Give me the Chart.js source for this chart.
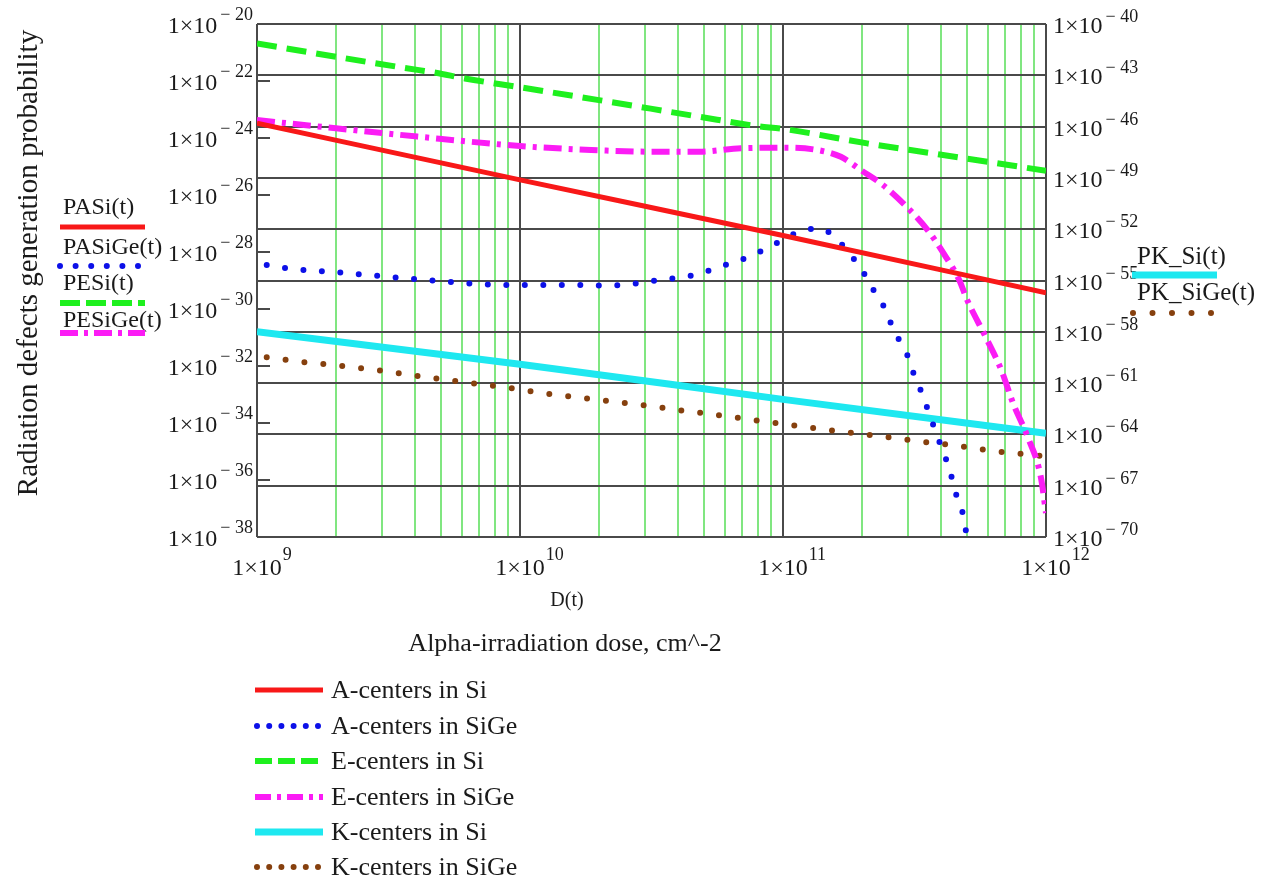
<!DOCTYPE html>
<html><head><meta charset="utf-8">
<script src="https://cdn.jsdelivr.net/npm/chart.js@4.4.0/dist/chart.umd.min.js"></script>
<style>html,body{margin:0;padding:0;background:#fff;}canvas{display:block;}</style>
</head><body>
<canvas id="c" width="1269" height="881"></canvas>
<script>
// ---------- data (exponents of ten) ----------
const xTickExps = [9, 10, 11, 12];
const leftTickExps = [-20, -22, -24, -26, -28, -30, -32, -34, -36, -38];
const rightTickExps = [-40, -43, -46, -49, -52, -55, -58, -61, -64, -67, -70];

const seriesNames = ['PASi(t)', 'PASiGe(t)', 'PESi(t)', 'PESiGe(t)', 'PK_Si(t)', 'PK_SiGe(t)'];
const legendLabels = ['A-centers in Si', 'A-centers in SiGe', 'E-centers in Si', 'E-centers in SiGe', 'K-centers in Si', 'K-centers in SiGe'];
const xTitle = 'Alpha-irradiation dose, cm^-2';
const xVarName = 'D(t)';
const yTitle = 'Radiation defects generation probability';

// A-centers in Si (left axis)
const pasiLogD = [9, 10, 11, 12];
const pasiLogP = [-23.48, -25.47, -27.42, -29.43];

// A-centers in SiGe (left axis)
const pasigeLogD = [9.037, 9.113, 9.33, 9.61, 9.97, 10.25, 10.32, 10.46, 10.53, 10.61, 10.68, 10.75, 10.82, 10.885, 10.95, 11.01, 11.07, 11.14, 11.19, 11.235, 11.27, 11.305, 11.33, 11.37, 11.39, 11.415, 11.44, 11.47, 11.49, 11.515, 11.53, 11.55, 11.57, 11.59, 11.61, 11.63, 11.645, 11.66, 11.68, 11.69, 11.70];
const pasigeLogP = [-28.46, -28.57, -28.73, -28.96, -29.16, -29.16, -29.18, -29.08, -28.98, -28.89, -28.77, -28.54, -28.34, -28.11, -27.81, -27.52, -27.26, -27.18, -27.42, -27.85, -28.25, -28.69, -29.18, -29.61, -30.09, -30.59, -31.06, -31.55, -32.12, -32.61, -33.05, -33.51, -34.04, -34.54, -35.04, -35.53, -36.04, -36.56, -37.03, -37.55, -37.96];

// E-centers in Si (left axis)
const pesiLogD = [9, 9.30, 9.61, 9.68, 9.79, 10.0, 10.30, 10.68, 10.9, 11.0, 11.32, 11.57, 12.0];
const pesiLogP = [-20.68, -21.15, -21.61, -21.71, -21.91, -22.22, -22.67, -23.25, -23.58, -23.68, -24.19, -24.54, -25.15];

// E-centers in SiGe (left axis)
const pesigeLogD = [9.0, 9.30, 9.61, 10.0, 10.27, 10.5, 10.68, 10.84, 11.0, 11.13, 11.22, 11.30, 11.38, 11.47, 11.55, 11.61, 11.67, 11.70, 11.77, 11.83, 11.875, 11.93, 11.98, 12.0];
const pesigeLogP = [-23.37, -23.66, -23.95, -24.28, -24.42, -24.48, -24.48, -24.36, -24.34, -24.42, -24.66, -25.15, -25.65, -26.41, -27.23, -28.04, -28.98, -29.68, -30.97, -32.14, -33.31, -34.48, -35.88, -37.16];

// K-centers in Si (right axis)
const pksiLogD = [9, 10, 11, 12];
const pksiLogP = [-58.0, -59.9, -61.95, -63.94];

// K-centers in SiGe (right axis)
const pksigeLogD = [9.037, 9.18, 9.326, 9.468, 9.607, 9.753, 9.965, 10.11, 10.25, 10.46, 10.60, 10.75, 10.89, 11.03, 11.15, 11.28, 11.41, 11.53, 11.67, 11.79, 11.92, 12.0];
const pksigeLogP = [-59.49, -59.78, -60.0, -60.27, -60.58, -60.88, -61.30, -61.64, -61.89, -62.28, -62.57, -62.87, -63.16, -63.45, -63.70, -63.94, -64.19, -64.43, -64.68, -64.95, -65.16, -65.30];

// ---------- build ----------
const pts = (ld, lp) => ld.map((d, i) => ({ x: Math.pow(10, d), y: Math.pow(10, lp[i]) }));
const pw = e => Math.pow(10, e);

const datasets = [
  { label: seriesNames[0], data: pts(pasiLogD, pasiLogP), yAxisID: 'y', borderColor: '#f81818', borderWidth: 5, borderDash: [], borderCapStyle: 'butt' },
  { label: seriesNames[1], data: pts(pasigeLogD, pasigeLogP), yAxisID: 'y', borderColor: '#0c10e8', borderWidth: 6, borderDash: [0, 18.5], borderCapStyle: 'round' },
  { label: seriesNames[2], data: pts(pesiLogD, pesiLogP), yAxisID: 'y', borderColor: '#1ef01e', borderWidth: 6, borderDash: [20, 10], borderCapStyle: 'butt' },
  { label: seriesNames[3], data: pts(pesigeLogD, pesigeLogP), yAxisID: 'y', borderColor: '#fb1cf5', borderWidth: 6, borderDash: [18, 7, 4, 7], borderCapStyle: 'butt' },
  { label: seriesNames[4], data: pts(pksiLogD, pksiLogP), yAxisID: 'y2', borderColor: '#1ee8f0', borderWidth: 7, borderDash: [], borderCapStyle: 'butt' },
  { label: seriesNames[5], data: pts(pksigeLogD, pksigeLogP), yAxisID: 'y2', borderColor: '#86400e', borderWidth: 6, borderDash: [0, 19], borderCapStyle: 'round' }
];
datasets.forEach(d => { d.pointRadius = 0; d.fill = false; d.cubicInterpolationMode = 'monotone'; });

const isDecade = v => Math.abs(Math.log10(v) - Math.round(Math.log10(v))) < 1e-9;
const GRID_DARK = '#4a4a4a';
const GRID_GREEN = '#80e680';
const TEXT = '#1a1a1a';
const SERIF = '"Liberation Serif", "DejaVu Serif", serif';

function drawSci(ctx, e, align, x, baseY, supY) {
  const base = '1\u00d710';
  const sup = e < 0 ? '\u2212 ' + (-e) : String(e);
  ctx.font = '24px ' + SERIF; const wb = ctx.measureText(base).width;
  ctx.font = '18px ' + SERIF; const ws = ctx.measureText(sup).width;
  const gap = align === 'center' ? 1 : 3;
  let x0;
  if (align === 'right') x0 = x - ws - gap - wb;
  else if (align === 'left') x0 = x;
  else x0 = x - wb / 2;
  ctx.textAlign = 'left'; ctx.textBaseline = 'alphabetic';
  ctx.font = '24px ' + SERIF; ctx.fillText(base, x0, baseY);
  ctx.font = '18px ' + SERIF; ctx.fillText(sup, x0 + wb + gap, supY);
}

function sample(ctx, ds, x0, x1, y, dash) {
  ctx.save();
  ctx.strokeStyle = ds.borderColor; ctx.lineWidth = ds.borderWidth;
  ctx.setLineDash(dash || ds.borderDash || []); ctx.lineCap = ds.borderCapStyle || 'butt';
  ctx.beginPath(); ctx.moveTo(x0, y); ctx.lineTo(x1, y); ctx.stroke();
  ctx.restore();
}

const textPlugin = {
  id: 'mathcadText',
  afterDraw(chart) {
    const ctx = chart.ctx, a = chart.chartArea;
    const sx = chart.scales.x, yl = chart.scales.y, yr = chart.scales.y2;
    const ds = chart.data.datasets;
    ctx.save();
    // inward tick marks of left axis
    ctx.strokeStyle = GRID_DARK; ctx.lineWidth = 2;
    leftTickExps.forEach(e => {
      const y = Math.round(yl.getPixelForValue(pw(e)));
      ctx.beginPath(); ctx.moveTo(a.left, y); ctx.lineTo(a.left + 13, y); ctx.stroke();
    });
    ctx.fillStyle = TEXT;
    leftTickExps.forEach(e => { const y = yl.getPixelForValue(pw(e)); drawSci(ctx, e, 'right', a.left - 4, y + 9, y - 4); });
    rightTickExps.forEach(e => { const y = yr.getPixelForValue(pw(e)); drawSci(ctx, e, 'left', a.right + 7, y + 9, y - 2); });
    xTickExps.forEach(e => { const x = sx.getPixelForValue(pw(e)); drawSci(ctx, e, 'center', x, a.bottom + 38, a.bottom + 23); });

    // variable name under x axis
    ctx.textAlign = 'center'; ctx.textBaseline = 'alphabetic';
    ctx.font = '20px ' + SERIF; ctx.fillText(xVarName, 567, 606);
    // x title
    ctx.font = '26px ' + SERIF; ctx.fillText(xTitle, 565, 651);
    // y title
    ctx.save(); ctx.translate(37, 263); ctx.rotate(-Math.PI / 2);
    ctx.font = '29px ' + SERIF; ctx.textAlign = 'center'; ctx.fillText(yTitle, 0, 0);
    ctx.restore();

    // left series legends (Mathcad trace labels)
    ctx.textAlign = 'left'; ctx.font = '24px ' + SERIF;
    const leftRows = [[0, 214, 227, null], [1, 254, 266, [0, 15.6]], [2, 290, 303, [20, 6]], [3, 327, 333, [18, 6, 4, 6]]];
    leftRows.forEach(r => {
      ctx.fillStyle = TEXT; ctx.fillText(seriesNames[r[0]], 63, r[1]);
      sample(ctx, ds[r[0]], 60, r[0] === 1 ? 139 : 145, r[2], r[3]);
    });
    // right series legends
    ctx.font = '25px ' + SERIF;
    ctx.fillStyle = TEXT; ctx.fillText(seriesNames[4], 1137, 264);
    sample(ctx, ds[4], 1132, 1217, 275, null);
    ctx.fillStyle = TEXT; ctx.fillText(seriesNames[5], 1137, 300);
    sample(ctx, ds[5], 1133, 1212, 313, [0, 19.5]);

    // bottom legend
    const rowY = [690, 726, 761, 797, 832, 867];
    const dashes = [null, [0, 12.2], [17, 6], [16, 6, 4, 6], null, [0, 12.2]];
    ctx.font = '26px ' + SERIF;
    legendLabels.forEach((t, i) => {
      const dotted = dashes[i] && dashes[i][0] === 0;
      sample(ctx, ds[i], dotted ? 257 : 255, dotted ? 318 : 323, rowY[i], dashes[i]);
      ctx.fillStyle = TEXT; ctx.fillText(t, 331, rowY[i] + 8);
    });
    ctx.restore();
  }
};

const zeroW = s => { s.width = 0; };
const zeroH = s => { s.height = 0; };

new Chart(document.getElementById('c'), {
  type: 'line',
  data: { datasets },
  options: {
    responsive: false, animation: false, devicePixelRatio: 1,
    layout: { padding: { left: 257, top: 24, right: 223, bottom: 344 } },
    plugins: { legend: { display: false }, tooltip: { enabled: false }, title: { display: false } },
    scales: {
      x: {
        type: 'logarithmic', min: pw(xTickExps[0]), max: pw(xTickExps[xTickExps.length - 1]),
        afterBuildTicks: s => {
          const t = [];
          for (let i = 0; i < xTickExps.length - 1; i++) for (let m = 1; m <= 9; m++) t.push({ value: m * pw(xTickExps[i]) });
          t.push({ value: pw(xTickExps[xTickExps.length - 1]) });
          s.ticks = t;
        },
        afterFit: zeroH,
        ticks: { display: false },
        border: { display: false },
        grid: { drawTicks: false, color: c => isDecade(c.tick.value) ? GRID_DARK : GRID_GREEN, lineWidth: 2 }
      },
      y: {
        type: 'logarithmic', position: 'left', min: pw(leftTickExps[leftTickExps.length - 1]), max: pw(leftTickExps[0]),
        afterBuildTicks: s => { s.ticks = leftTickExps.map(e => ({ value: pw(e) })); },
        afterFit: zeroW,
        ticks: { display: false }, border: { display: false },
        grid: { display: false, drawTicks: false }
      },
      y2: {
        type: 'logarithmic', position: 'right', min: pw(rightTickExps[rightTickExps.length - 1]), max: pw(rightTickExps[0]),
        afterBuildTicks: s => { s.ticks = rightTickExps.map(e => ({ value: pw(e) })); },
        afterFit: zeroW,
        ticks: { display: false }, border: { display: false },
        grid: { drawTicks: false, color: GRID_DARK, lineWidth: 2 }
      }
    }
  },
  plugins: [textPlugin]
});
</script>
</body></html>
